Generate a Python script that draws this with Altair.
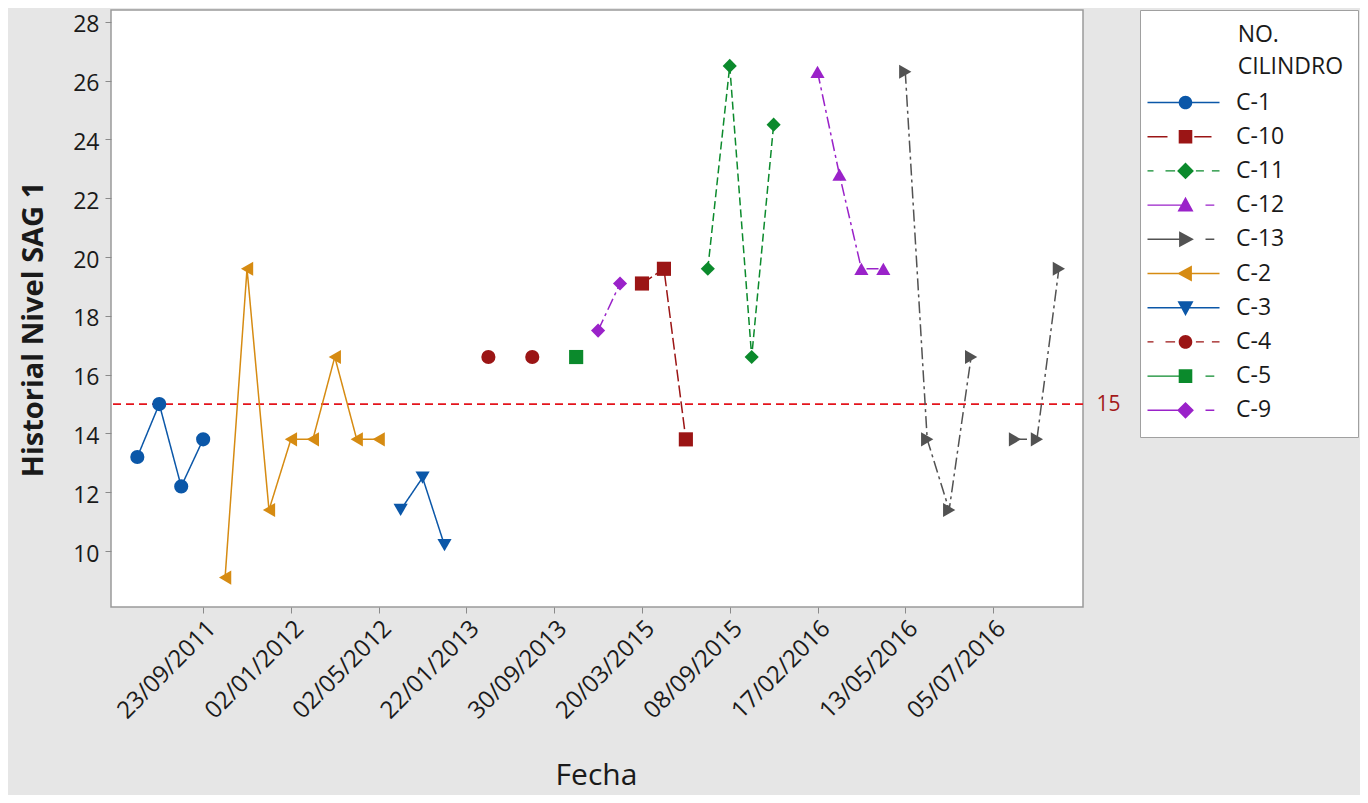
import json
import pandas as pd
import altair as alt

# ---------------- data ----------------
cilindro = (["C-1"] * 4 + ["C-2"] * 8 + ["C-3"] * 3 + ["C-4"] * 4 + ["C-5"] * 2
            + ["C-9"] * 2 + ["C-10"] * 3 + ["C-11"] * 4 + ["C-12"] * 5 + ["C-13"] * 8)
nivel = [13.2, 15.0, 12.2, 13.8,
         9.1, 19.6, 11.4, 13.8, 13.8, 16.6, 13.8, 13.8,
         11.4, 12.5, 10.2,
         None, 16.6, None, 16.6,
         None, 16.6,
         17.5, 19.1,
         19.1, 19.6, 13.8,
         19.6, 26.5, 16.6, 24.5,
         None, 26.3, 22.8, 19.6, 19.6,
         26.3, 13.8, 11.4, 16.6, None, 13.8, 13.8, 19.6]
tick_index = [4, 8, 12, 16, 20, 24, 28, 32, 36, 40]
tick_fecha = ["23/09/2011", "02/01/2012", "02/05/2012", "22/01/2013", "30/09/2013",
              "20/03/2015", "08/09/2015", "17/02/2016", "13/05/2016", "05/07/2016"]
series = ["C-1", "C-10", "C-11", "C-12", "C-13", "C-2", "C-3", "C-4", "C-5", "C-9"]
ref_value = [15]

# ---------------- styles ----------------
BLUE, RED, GREEN, PURPLE, GRAY, ORANGE = "#0b57a8", "#9b1515", "#0b8a2c", "#9a22c9", "#525252", "#d68b12"
color_of = {"C-1": BLUE, "C-10": RED, "C-11": GREEN, "C-12": PURPLE, "C-13": GRAY,
            "C-2": ORANGE, "C-3": BLUE, "C-4": RED, "C-5": GREEN, "C-9": PURPLE}
shape_of = {"C-1": "circle", "C-10": "square", "C-11": "diamond", "C-12": "triangle-up",
            "C-13": "triangle-right", "C-2": "triangle-left", "C-3": "triangle-down",
            "C-4": "circle", "C-5": "square", "C-9": "diamond"}
kind_of = {"C-1": "solid", "C-10": "long", "C-11": "dash", "C-12": "dashdot", "C-13": "dashdot",
           "C-2": "solid", "C-3": "solid", "C-4": "dash", "C-5": "dashdot", "C-9": "dashdot"}
dash_chart = {"solid": [1, 0], "long": [12, 4], "dash": [8, 4], "dashdot": [12, 4, 3, 4]}

# legend glyphs (line + marker) as custom symbol paths, unit = sqrt(size)/2 px
marker_path = {
    "circle": "M0.85,0A0.85,0.85,0,1,1,-0.85,0A0.85,0.85,0,1,1,0.85,0Z",
    "square": "M-0.85,-0.85H0.85V0.85H-0.85Z",
    "diamond": "M0,-1.05L1.05,0L0,1.05L-1.05,0Z",
    "triangle-up": "M0,-1.05L1,0.8L-1,0.8Z",
    "triangle-down": "M0,1.05L-1,-0.8L1,-0.8Z",
    "triangle-left": "M-1.05,0L0.8,-1L0.8,1Z",
    "triangle-right": "M1.05,0L-0.8,1L-0.8,-1Z",
}
legend_segments = {
    "solid": [(-4.75, 4.25)],
    "long": [(-4.75, -2.25), (1.1, 3.25)],
    "dash": [(-4.75, -4.0), (-2.5, -1.3), (1.3, 2.3), (3.3, 4.25)],
    "dashdot": [(-4.75, -0.5), (2.5, 3.6)],
}


def glyph(name):
    t = 0.09
    segs = "".join(f"M{a},{-t}H{b}V{t}H{a}Z" for a, b in legend_segments[kind_of[name]])
    return segs + marker_path[shape_of[name]]


# ---------------- table ----------------
rows = []
prev = None
seg = 0
for i, (c, v) in enumerate(zip(cilindro, nivel), start=1):
    if v is None:
        prev = None
        continue
    if prev != c:
        seg += 1
    prev = c
    rows.append({"idx": i, "nivel": v, "cilindro": c, "seg": seg})
df = pd.DataFrame(rows)

FONT = "Open Sans"
TXT = "#1a1a1a"

xscale = alt.Scale(domain=[-0.2, 44.1], nice=False, zero=False)
yscale = alt.Scale(domain=[8.1, 28.4], nice=False, zero=False)

label_expr = json.dumps(tick_fecha) + "[round(datum.value / 4) - 1]"

x_axis = alt.Axis(values=tick_index, labelExpr=label_expr, labelAngle=-45, labelPadding=3,
                  labelFontSize=24, labelOverlap=False, grid=False, domain=False,
                  title="Fecha", titleFontSize=30, titleFontWeight="normal",
                  titleX=485, titleY=168, titleBaseline="middle")
y_axis = alt.Axis(values=list(range(10, 29, 2)), grid=False, domain=False, labelPadding=6,
                  labelFontSize=23, labelOffset=3,
                  title="Historial Nivel SAG 1", titleFontSize=29, titleFontWeight="bold",
                  titleX=-78, titleY=319, titleBaseline="middle", titleAlign="center")
right_axis = alt.Axis(orient="right", values=ref_value, ticks=False, domain=False, grid=False,
                      labelColor="#a31a1a", labelFontSize=21, labelPadding=13, title="")

color_scale = alt.Scale(domain=series, range=[color_of[s] for s in series])

pad = "\u200b" + "\u00a0" * 14
leg = alt.Legend(title=[pad + "NO.", pad + "CILINDRO"], orient="none", legendX=1029, legendY=0,
                 padding=14, fillColor="white", strokeColor="#a0a0a0",
                 symbolSize=256, symbolStrokeWidth=0, symbolOffset=20, labelOffset=39,
                 labelFont=FONT, labelFontSize=23, labelColor=TXT, labelLimit=300,
                 titleFont=FONT, titleFontSize=23, titleFontWeight="normal", titleColor=TXT,
                 titleLineHeight=32, titlePadding=12, rowPadding=10.2, titleLimit=400)

X = alt.X("idx:Q", scale=xscale, axis=x_axis)

rule = alt.Chart(pd.DataFrame({"ref": ref_value})).mark_rule(
    color="#e3141c", strokeWidth=1.6, strokeDash=[8, 5]
).encode(y=alt.Y("ref:Q", scale=yscale, axis=right_axis))

lines = alt.Chart(df).mark_line(strokeWidth=1.5).encode(
    x=X,
    y=alt.Y("nivel:Q", scale=yscale, axis=y_axis),
    color=alt.Color("cilindro:N", scale=color_scale, legend=None),
    strokeDash=alt.StrokeDash("cilindro:N",
                              scale=alt.Scale(domain=series, range=[dash_chart[kind_of[s]] for s in series]),
                              legend=None),
    detail="seg:N",
    order="idx:Q",
)

points = alt.Chart(df).mark_point(filled=True, opacity=1, size=200).encode(
    x=X,
    y=alt.Y("nivel:Q", scale=yscale, axis=None),
    color=alt.Color("cilindro:N", scale=color_scale, legend=None),
    shape=alt.Shape("cilindro:N", scale=alt.Scale(domain=series, range=[shape_of[s] for s in series]),
                    legend=None),
)

legend_layer = alt.Chart(df).transform_filter("false").mark_point(filled=True, opacity=1).encode(
    x=X,
    y=alt.Y("nivel:Q", scale=yscale, axis=None),
    color=alt.Color("cilindro:N", scale=color_scale, legend=leg),
    shape=alt.Shape("cilindro:N", scale=alt.Scale(domain=series, range=[glyph(s) for s in series]),
                    legend=leg),
)

chart = alt.layer(rule, lines, points, legend_layer).resolve_scale(
    color="independent", shape="independent", strokeDash="independent"
).resolve_axis(y="independent").properties(
    width=972, height=597,
    autosize=alt.AutoSizeParams(type="none"),
    padding={"left": 103, "top": 2, "right": 277, "bottom": 188},
    background="#e6e6e6",
).configure(font=FONT).configure_view(
    fill="white", stroke="#9a9a9a", strokeWidth=1.5
).configure_axis(
    labelFont=FONT, labelFontSize=23, labelColor=TXT, tickColor="#8a8a8a", tickSize=6,
    titleFont=FONT, titleColor=TXT
)

chart.save("out.html", embed_options={"renderer": "svg", "actions": False})
